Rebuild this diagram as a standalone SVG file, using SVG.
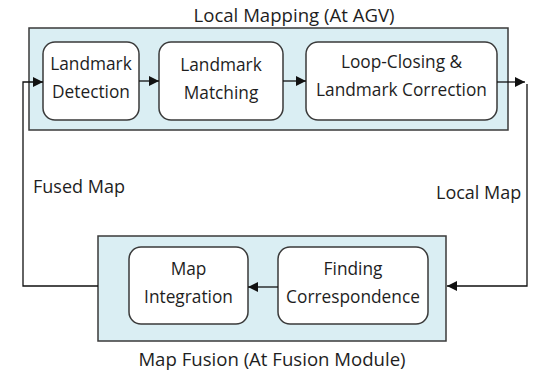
<svg xmlns="http://www.w3.org/2000/svg" width="540" height="373" viewBox="0 0 540 373">
<style>
.cont{fill:#daeef3;stroke:#3a3a3a;stroke-width:1.5}
.box{fill:#ffffff;stroke:#3a3a3a;stroke-width:1.5}
text{font-family:"Open Sans","Noto Sans",sans-serif;font-size:17.3px;fill:#1e1e1e}
.lbl{font-size:18px}
.ttl{font-size:18.6px}
.c{text-anchor:middle}
.ln{fill:none;stroke:#111111;stroke-width:1.3}
</style>
<defs>
<marker id="ah" viewBox="0 0 10 10" refX="10" refY="5" markerWidth="10" markerHeight="10" markerUnits="userSpaceOnUse" orient="auto">
<path d="M0,0 L10,5 L0,10 Z" fill="#111111"/>
</marker>
</defs>
<rect x="0" y="0" width="540" height="373" fill="#ffffff"/>
<g id="local-mapping">
<rect class="cont" x="29" y="28" width="479" height="102"/>
<text class="c ttl" x="294" y="22">Local Mapping (At AGV)</text>
</g>
<g id="map-fusion">
<rect class="cont" x="98" y="236" width="348" height="105"/>
<text class="c ttl" x="272" y="366">Map Fusion (At Fusion Module)</text>
</g>
<g id="landmark-detection">
<rect class="box" x="43" y="42" width="96" height="78" rx="12"/>
<text class="c" x="91" y="70">Landmark</text>
<text class="c" x="91" y="98">Detection</text>
</g>
<g id="landmark-matching">
<rect class="box" x="159" y="42" width="124" height="78" rx="12"/>
<text class="c" x="221" y="71">Landmark</text>
<text class="c" x="221" y="99">Matching</text>
</g>
<g id="loop-closing">
<rect class="box" x="306" y="42" width="191" height="78" rx="12"/>
<text class="c" x="401.5" y="68">Loop-Closing &amp;</text>
<text class="c" x="401.5" y="96">Landmark Correction</text>
</g>
<g id="map-integration">
<rect class="box" x="129" y="247" width="119" height="77" rx="12"/>
<text class="c" x="188.5" y="275">Map</text>
<text class="c" x="188.5" y="303">Integration</text>
</g>
<g id="finding-correspondence">
<rect class="box" x="278" y="247" width="150" height="77" rx="12"/>
<text class="c" x="353" y="275">Finding</text>
<text class="c" x="353" y="303">Correspondence</text>
</g>
<g id="connectors">
<path class="ln" d="M139,81 H159" marker-end="url(#ah)"/>
<path class="ln" d="M283,81 H306" marker-end="url(#ah)"/>
<path class="ln" d="M497,82 H525" marker-end="url(#ah)"/>
<path class="ln" d="M527,84 V286 H447" marker-end="url(#ah)"/>
<path class="ln" d="M278,287 H248" marker-end="url(#ah)"/>
<path class="ln" d="M98,286 H23 V82 H43" marker-end="url(#ah)"/>
<text class="lbl" x="33" y="193">Fused Map</text>
<text class="lbl" x="436" y="199">Local Map</text>
</g>
</svg>
